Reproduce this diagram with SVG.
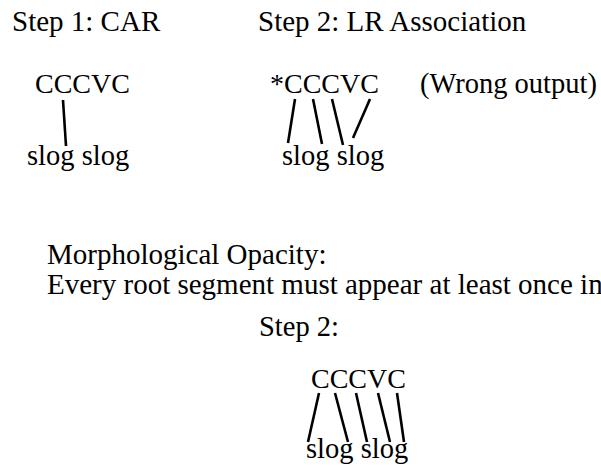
<svg xmlns="http://www.w3.org/2000/svg" width="601" height="470" viewBox="0 0 601 470">
<rect width="601" height="470" fill="#fff"/>
<g id="step1-title"><text font-family="Liberation Serif" font-size="29" x="12" y="31">Step 1: CAR</text></g>
<g id="step2-title"><text font-family="Liberation Serif" font-size="29" x="258" y="31">Step 2: LR Association</text></g>
<g id="step1-root"><text font-family="Liberation Serif" font-size="28" x="35" y="93">CCCVC</text></g>
<g id="step1-template"><text font-family="Liberation Serif" font-size="28.5" x="27" y="165">slog slog</text></g>
<g id="step2-root"><text font-family="Liberation Serif" font-size="28" x="270" y="93">*CCCVC</text></g>
<g id="step2-note"><text font-family="Liberation Serif" font-size="28.5" x="420" y="93">(Wrong output)</text></g>
<g id="step2-template"><text font-family="Liberation Serif" font-size="28.5" x="282" y="165">slog slog</text></g>
<g id="opacity"><text font-family="Liberation Serif" font-size="29" x="47" y="264">Morphological Opacity:</text><text font-family="Liberation Serif" font-size="29" x="47" y="294">Every root segment must appear at least once in</text></g>
<g id="step2b-title"><text font-family="Liberation Serif" font-size="28.5" x="259" y="336">Step 2:</text></g>
<g id="step2b-root"><text font-family="Liberation Serif" font-size="28" x="311" y="388">CCCVC</text></g>
<g id="step2b-template"><text font-family="Liberation Serif" font-size="28.5" x="306" y="458">slog slog</text></g>
<g id="connectors" stroke="#000" stroke-width="2.6" fill="none">
<line x1="63" y1="100" x2="66" y2="146"/>
<line x1="295" y1="99" x2="288" y2="143"/>
<line x1="313" y1="99" x2="322" y2="144"/>
<line x1="332" y1="99" x2="343" y2="145"/>
<line x1="370" y1="99" x2="353" y2="138"/>
<line x1="319" y1="393" x2="308" y2="442"/>
<line x1="335" y1="393" x2="348" y2="442"/>
<line x1="356" y1="393" x2="367" y2="442"/>
<line x1="378" y1="393" x2="390" y2="442"/>
<line x1="397" y1="393" x2="404" y2="442"/>
</g>
</svg>
